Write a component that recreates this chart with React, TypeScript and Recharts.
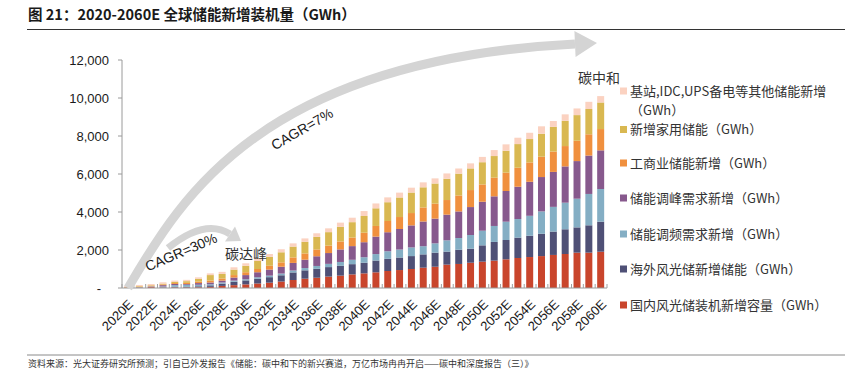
import React from "react";
import { BarChart, Bar, XAxis, YAxis } from "recharts";

const years = [
  "2020E", "2021E", "2022E", "2023E", "2024E", "2025E", "2026E", "2027E", "2028E", "2029E",
  "2030E", "2031E", "2032E", "2033E", "2034E", "2035E", "2036E", "2037E", "2038E", "2039E",
  "2040E", "2041E", "2042E", "2043E", "2044E", "2045E", "2046E", "2047E", "2048E", "2049E",
  "2050E", "2051E", "2052E", "2053E", "2054E", "2055E", "2056E", "2057E", "2058E", "2059E",
  "2060E",
];

// 国内风光储装机新增容量
const domestic = [
  15, 20, 45, 20, 30, 30, 40, 60, 110, 150,
  190, 240, 280, 340, 420, 490, 540, 600, 650, 715,
  770, 825, 895, 945, 1000, 1070, 1120, 1230, 1265, 1330,
  1385, 1440, 1510, 1580, 1630, 1680, 1740, 1790, 1860, 1860,
  1910,
];
// 海外风光储新增储能
const overseas = [
  0, 5, 15, 20, 30, 30, 50, 80, 120, 180,
  210, 250, 290, 330, 400, 440, 470, 500, 520, 540,
  560, 620, 640, 660, 680, 700, 740, 685, 750, 740,
  860, 985, 1015, 1070, 1120, 1175, 1230, 1300, 1330, 1440,
  1580,
];
// 储能调频需求新增
const freqReg = [
  5, 15, 15, 40, 90, 110, 80, 60, 60, 60,
  60, 70, 80, 90, 100, 120, 150, 170, 200, 230,
  290, 340, 400, 420, 455, 430, 490, 595, 615, 720,
  770, 840, 965, 980, 1050, 1175, 1300, 1400, 1510, 1650,
  1720,
];
// 储能调峰需求新增
const peakShaving = [
  5, 10, 15, 70, 60, 40, 90, 90, 100, 160,
  220, 270, 320, 360, 400, 440, 510, 570, 660, 720,
  790, 920, 1000, 1080, 1160, 1300, 1300, 1350, 1400, 1470,
  1525, 1560, 1615, 1700, 1790, 1810, 1840, 1910, 1980, 2020,
  2035,
];
// 工商业储能新增
const commercial = [
  15, 20, 35, 40, 50, 60, 80, 100, 110, 130,
  150, 170, 200, 230, 290, 330, 360, 390, 420, 450,
  500, 560, 590, 630, 650, 740, 790, 770, 840, 895,
  910, 980, 965, 1000, 1020, 1070, 1070, 1070, 1070, 1120,
  1120,
];
// 新增家用储能
const household = [
  10, 30, 25, 40, 60, 90, 140, 290, 240, 290,
  340, 420, 470, 530, 570, 610, 660, 710, 770, 810,
  880, 930, 990, 1030, 1080, 1060, 1060, 1120, 1150, 1140,
  1170, 1140, 1155, 1245, 1230, 1210, 1300, 1330, 1350, 1330,
  1400,
];
// 基站,IDC,UPS备电等其他储能新增
const otherBackup = [
  50, 60, 60, 70, 70, 70, 80, 90, 110, 120,
  130, 140, 150, 160, 170, 180, 190, 200, 220, 235,
  260, 255, 255, 255, 255, 260, 270, 280, 270, 265,
  280, 315, 335, 335, 330, 390, 310, 340, 350, 380,
  335,
];

const yTicks = [0, 2000, 4000, 6000, 8000, 10000, 12000];

// bottom to top of the stack
const series = [
  { key: "domestic", name: "国内风光储装机新增容量（GWh）", color: "#C9452C", data: domestic },
  { key: "overseas", name: "海外风光储新增储能（GWh）", color: "#4F5076", data: overseas },
  { key: "freqReg", name: "储能调频需求新增（GWh）", color: "#84AEC4", data: freqReg },
  { key: "peakShaving", name: "储能调峰需求新增（GWh）", color: "#87598D", data: peakShaving },
  { key: "commercial", name: "工商业储能新增（GWh）", color: "#F0903E", data: commercial },
  { key: "household", name: "新增家用储能（GWh）", color: "#D9B851", data: household },
  { key: "otherBackup", name: "基站,IDC,UPS备电等其他储能新增（GWh）", color: "#FBD2C1", data: otherBackup },
];

const rows = years.map((year, i) => {
  const row: Record<string, string | number> = { year };
  series.forEach((s) => (row[s.key] = s.data[i]));
  return row;
});

const W = 857;
const H = 374;
const M = { top: 60, right: 250, bottom: 36, left: 62 };
const Y_W = 60;
const X_H = 50;
const PLOT_L = M.left + Y_W;
const PLOT_W = W - M.right - PLOT_L;
const STEP = PLOT_W / years.length;

const NUM_FONT = "'Liberation Sans', Arial, sans-serif";
const CJK_FONT = "'Noto Sans CJK SC', 'Noto Sans', sans-serif";

function XTick({ x, y, payload, index }: any) {
  const bx = x - STEP / 2;
  return (
    <g>
      <line x1={bx} y1={y} x2={bx} y2={y - 4} stroke="#a0a0a0" />
      {index === years.length - 1 && (
        <line x1={x + STEP / 2} y1={y} x2={x + STEP / 2} y2={y - 4} stroke="#a0a0a0" />
      )}
      {index % 2 === 0 && (
        <text
          x={x + 6}
          y={y + 17}
          transform={`rotate(-45, ${x + 6}, ${y + 17})`}
          textAnchor="end"
          fontSize={13}
          fontFamily={NUM_FONT}
          fill="#1a1a1a"
        >
          {payload.value}
        </text>
      )}
    </g>
  );
}

function YTick({ x, y, payload }: any) {
  const v = payload.value;
  return (
    <text
      x={v === 0 ? x - 8 : x}
      y={y}
      dy={4.5}
      textAnchor="end"
      fontSize={13}
      fontFamily={NUM_FONT}
      fill="#1a1a1a"
    >
      {v === 0 ? "-" : v.toLocaleString("en-US")}
    </text>
  );
}

const legendRows = [91, 129.5, 163, 198, 234, 269, 305];

export default function App() {
  const legendItems = [...series].reverse();
  return (
    <div
      style={{
        position: "fixed",
        left: 0,
        top: 0,
        width: W,
        height: H,
        background: "#fff",
        overflow: "hidden",
      }}
    >
      <div style={{ position: "absolute", left: 0, top: 0 }}>
        <BarChart width={W} height={H} data={rows} margin={M} barSize={7}>
          <XAxis
            dataKey="year"
            interval={0}
            height={X_H}
            tickSize={0}
            tickMargin={0}
            tick={<XTick />}
            tickLine={false}
            axisLine={{ stroke: "#9a9a9a" }}
          />
          <YAxis
            width={Y_W}
            domain={[0, 12000]}
            ticks={yTicks}
            tickSize={4}
            tickMargin={9}
            tick={<YTick />}
            tickLine={{ stroke: "#9a9a9a" }}
            axisLine={{ stroke: "#9a9a9a" }}
          />
          {series.map((s) => (
            <Bar
              key={s.key}
              dataKey={s.key}
              name={s.name}
              stackId="all"
              fill={s.color}
              isAnimationActive={false}
            />
          ))}
        </BarChart>
      </div>

      <svg
        width={W}
        height={H}
        style={{ position: "absolute", left: 0, top: 0, pointerEvents: "none" }}
      >
        {/* title */}
        <text x={28} y={20} fontSize={14.5} fontWeight="bold" fontFamily={CJK_FONT} fill="#1a1a1a">
          图 21：2020-2060E 全球储能新增装机量（GWh）
        </text>
        <line x1={27} y1={29.5} x2={845} y2={29.5} stroke="#333" strokeWidth={1.2} />

        {/* arrows */}
        <path d="M128,288 C180,200 260,60 575,44" fill="none" stroke="#d4d4d4" strokeWidth={9} />
        <polygon points="597,43 575.6,57 574.4,31" fill="#d4d4d4" />
        <path d="M168,248 Q205,218 230,234" fill="none" stroke="#d4d4d4" strokeWidth={7} />
        <polygon points="241,241 225,241.6 235,226.4" fill="#d4d4d4" />

        <text
          x={181}
          y={257}
          transform="rotate(-23, 181, 252)"
          textAnchor="middle"
          fontSize={14}
          fontFamily={NUM_FONT}
          fill="#1a1a1a"
        >
          CAGR=30%
        </text>
        <text
          x={302}
          y={134}
          transform="rotate(-30, 302, 129)"
          textAnchor="middle"
          fontSize={14}
          fontFamily={NUM_FONT}
          fill="#1a1a1a"
        >
          CAGR=7%
        </text>
        <text x={246} y={259} textAnchor="middle" fontSize={14} fontFamily={CJK_FONT} fill="#333">
          碳达峰
        </text>
        <text x={599} y={83} textAnchor="middle" fontSize={14} fontFamily={CJK_FONT} fill="#333">
          碳中和
        </text>

        {/* legend */}
        {legendItems.map((s, i) => {
          const cy = legendRows[i];
          const twoLine = s.key === "otherBackup";
          return (
            <g key={s.key}>
              <rect x={620} y={cy - 3.5} width={7} height={7} fill={s.color} />
              {twoLine ? (
                <>
                  <text x={630} y={cy + 4.5} fontSize={13} fontFamily={CJK_FONT} fill="#333">
                    基站,IDC,UPS备电等其他储能新增
                  </text>
                  <text x={630} y={cy + 23.5} fontSize={13} fontFamily={CJK_FONT} fill="#333">
                    （GWh）
                  </text>
                </>
              ) : (
                <text x={630} y={cy + 4.5} fontSize={13} fontFamily={CJK_FONT} fill="#333">
                  {s.name}
                </text>
              )}
            </g>
          );
        })}

        {/* source */}
        <line x1={27} y1={355} x2={845} y2={355} stroke="#8a8a8a" strokeWidth={1} />
        <text x={28} y={367} fontSize={9} fontFamily={CJK_FONT} fill="#333">
          资料来源：光大证券研究所预测；引自已外发报告《储能：碳中和下的新兴赛道，万亿市场冉冉开启——碳中和深度报告（三）》
        </text>
      </svg>
    </div>
  );
}
